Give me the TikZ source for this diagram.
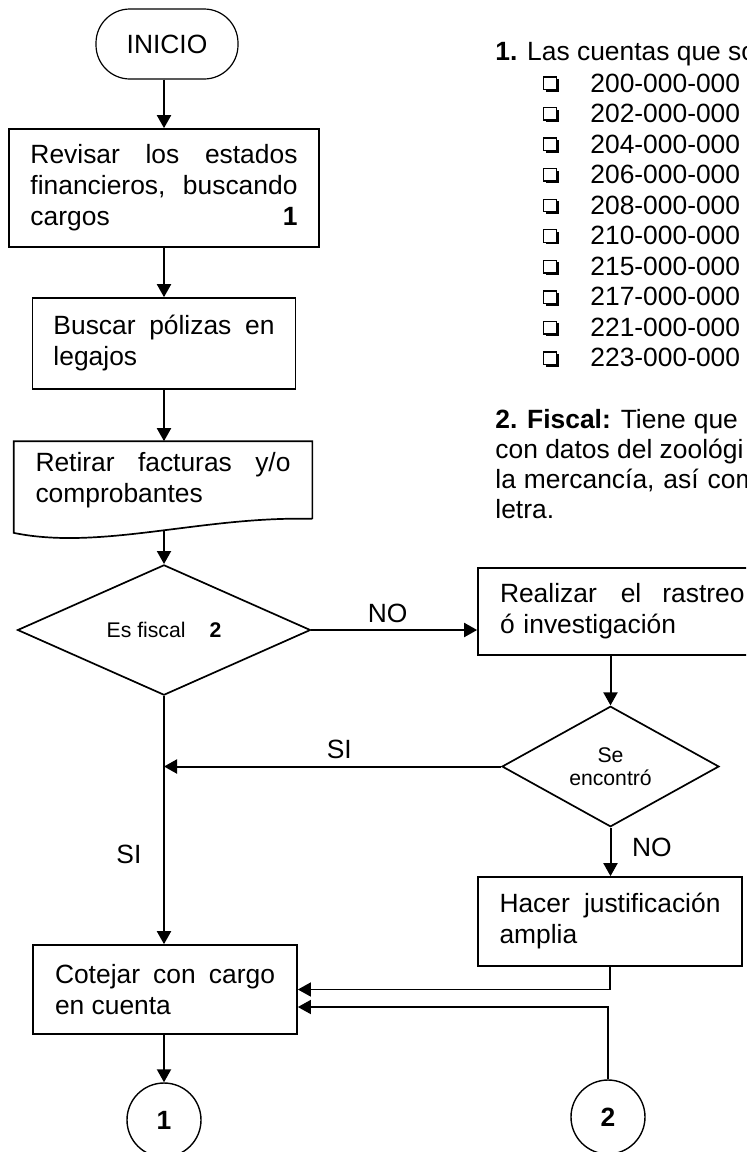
\documentclass[tikz,border=0pt]{standalone}
\usepackage{fontspec}
\setmainfont{Liberation Sans}
\usetikzlibrary{shapes.geometric,arrows.meta}
\tolerance=10000
\hbadness=10000
\hyphenpenalty=10000
\newcommand{\textoA}{\fontsize{13.2}{15.5}\selectfont}
\newcommand{\textoB}{\fontsize{10.6}{11.5}\selectfont}
\tikzset{
  proceso/.style={draw, line width=0.85pt, align=justify, font=\textoA, inner ysep=0pt},
  decision/.style={draw, diamond, line width=0.85pt, inner sep=0pt, align=center, font=\textoB},
  conector/.style={draw, circle, line width=0.7pt, minimum size=37pt, font=\textoA\bfseries},
  flecha/.style={line width=1pt, -{Triangle[length=6.5pt,width=7pt]}},
  etiqueta/.style={font=\textoA},
  nota/.style={anchor=base west, inner sep=0pt, font=\textoA},
}

\begin{document}
\begin{tikzpicture}[x=0.5pt, y=-0.5pt]
            \useasboundingbox (0,0) rectangle (746,1152);
            \clip (0,0) rectangle (746,1152);
            \node[draw, line width=0.6pt, rounded corners=17pt, minimum width=71pt, minimum height=35pt, font=\textoA] (inicio) at (167,44) {INICIO};
            \node[proceso, text width=133.5pt, minimum width=155pt,   minimum height=59pt]   (revisar)  at (164,188)   {Revisar los estados\linebreak financieros, buscando\linebreak cargos\hfill\textbf{1}\hspace*{6.5pt}};
            \node[proceso, text width=110.5pt, minimum width=131.5pt, minimum height=45.5pt] (buscar)   at (164,343.5) {Buscar pólizas en\linebreak legajos};
            \node[proceso, draw=none, text width=127.5pt, minimum width=148.5pt, minimum height=38pt] (retirar) at (163,480) {Retirar facturas y/o\linebreak comprobantes};
            \draw[line width=0.85pt] (retirar.south east) -- (retirar.north east) -- (retirar.north west) -- ([yshift=-7pt]retirar.south west)
                 .. controls +(87,18) and +(-110,-3) .. (retirar.south east);
            \coordinate (retirar-sal) at ([yshift=-6pt]retirar.south -| revisar.south);
            \node[decision, minimum width=146.5pt, minimum height=48pt]   (fiscal)   at (164,630)   {Es fiscal\hspace{12pt}\textbf{2}};
            \node[proceso, align=left, text width=150pt, inner xsep=11pt, minimum height=43.5pt] (realizar) at (650,611.5) {Realizar\hspace{12pt}el\hspace{10.5pt}rastreo\\ó investigación};
            \node[decision, minimum width=108.5pt, minimum height=59.5pt] (encontro) at (610.5,766.5) {Se\\encontró};
            \node[proceso, text width=110.5pt, minimum width=132pt,   minimum height=44.5pt] (hacer)    at (610,921.5) {Hacer justificación\linebreak amplia};
            \node[proceso, text width=110pt,   minimum width=132pt,   minimum height=44.5pt] (cotejar)  at (165,989.5) {Cotejar con cargo\linebreak en cuenta};
            \node[conector] (uno) at (164,1120) {1};
            \node[conector] (dos) at (608,1117) {2};

            \draw[flecha] (inicio.south -| revisar.north) -- (revisar.north);
            \draw[flecha] (revisar.south) -- (buscar.north);
            \draw[flecha] (buscar.south) -- (buscar.south |- retirar.north);
            \draw[flecha] (retirar-sal) -- (fiscal.north);
            \draw[flecha] (fiscal.east) -- node[etiqueta, above, pos=0.46] {NO} (fiscal.east -| realizar.west);
            \draw[flecha] (realizar.south -| encontro.north) -- (encontro.north);
            \draw[flecha] (encontro.west) -- node[etiqueta, above, pos=0.48] {SI} (encontro.west -| fiscal.south);
            \draw[flecha] (fiscal.south) -- node[etiqueta, left, pos=0.64, xshift=-7.5pt] {SI} (fiscal.south |- cotejar.north);
            \draw[flecha] (encontro.south) -- node[etiqueta, right, pos=0.41, xshift=7pt] {NO} (encontro.south |- hacer.north);
            \draw[flecha, line width=0.8pt] (hacer.south) |- (cotejar.east);
            \draw[flecha, line width=0.8pt] (dos.north) |- ([yshift=-8.75pt]cotejar.east);
            \draw[flecha] (cotejar.south -| uno.north) -- (uno.north);

            \node[nota] (nota1) at (495,60) {\textbf{1.} Las cuentas que so};
            \foreach \cta [count=\k from 0] in {200,202,204,206,208,210,215,217,221,223}{
                 \pgfmathsetmacro\yb{92+30.55*\k}
                 \node[nota] (cta\cta) at (590,\yb) {\cta-000-000};
                 \draw[line width=0.7pt] (543.5,{\yb-15}) rectangle (556.5,{\yb-2.5});
                 \fill (546,{\yb-2.5}) rectangle (559,{\yb-0.3});
                 \fill (556.5,{\yb-13}) rectangle (559,{\yb-0.3});
            }
            \foreach \linea [count=\k from 0] in {{\textbf{2. Fiscal:}\hspace{5pt}Tiene\hspace{4pt}que},{con datos del zoológi},{la\hspace{4pt}mercancía,\hspace{4.5pt}así\hspace{4.5pt}com},{letra.}}
                 \node[nota] (nota2-\k) at (495,{428+30.2*\k}) {\linea};
        \end{tikzpicture}
\end{document}
